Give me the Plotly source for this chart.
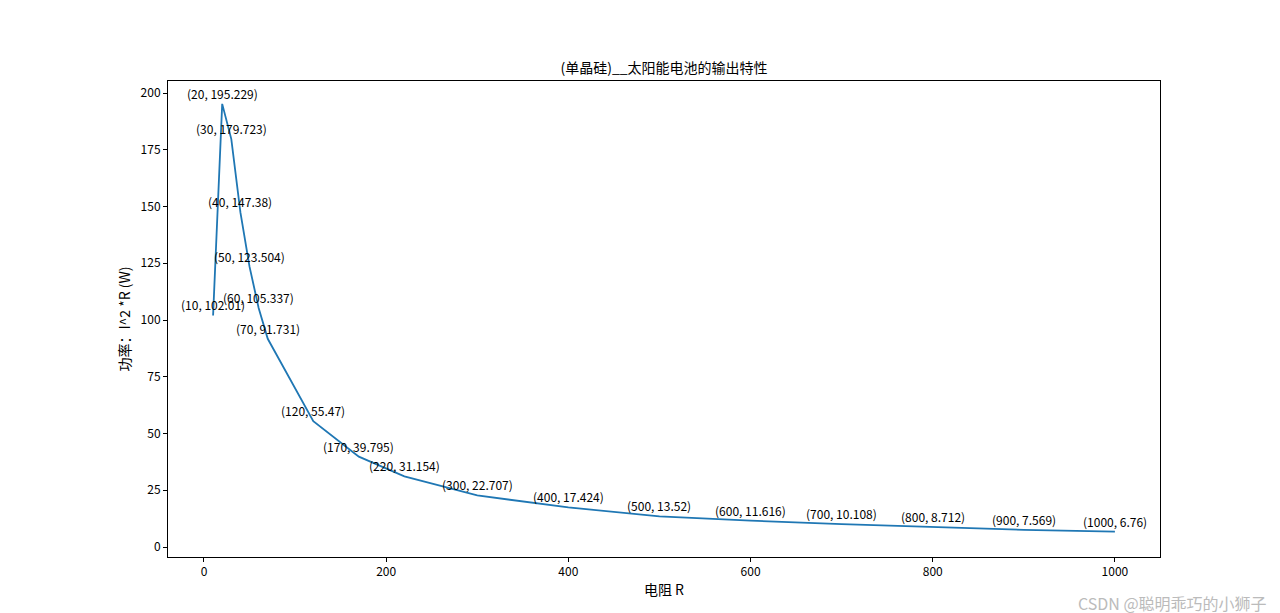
import plotly.graph_objects as go

resistance = [10, 20, 30, 40, 50, 60, 70, 120, 170, 220, 300, 400, 500, 600, 700, 800, 900, 1000]
power = [102.01, 195.229, 179.723, 147.38, 123.504, 105.337, 91.731, 55.47, 39.795, 31.154,
         22.707, 17.424, 13.52, 11.616, 10.108, 8.712, 7.569, 6.76]

font = "Noto Sans CJK SC, DejaVu Sans"
fig = go.Figure(go.Scatter(x=resistance, y=power, mode="lines",
                           line=dict(color="#1f77b4", width=1.8)))
anns = [dict(x=x, y=y, text=f"({x}, {y})", showarrow=False, xanchor="center",
             yanchor="bottom", font=dict(size=12, color="black", family=font))
        for x, y in zip(resistance, power)]
anns.append(dict(xref="paper", yref="paper", x=1.11, y=-0.097, text="CSDN @聪明乖巧的小狮子",
                 showarrow=False, xanchor="right", yanchor="middle",
                 font=dict(size=16, color="#bbbbbb", family=font)))
fig.update_layout(
    width=1280, height=613, plot_bgcolor="white", paper_bgcolor="white",
    margin=dict(l=160, r=128, t=73, b=64, autoexpand=False), showlegend=False,
    title=dict(text="(单晶硅)__太阳能电池的输出特性", x=0.5, xref="paper", y=1 - 60/613,
               yanchor="middle", font=dict(size=14, color="black", family=font)),
    font=dict(family=font, size=12, color="black"),
    annotations=anns,
)
axis = dict(showline=True, mirror=True, linecolor="black", linewidth=1, ticks="outside",
            ticklen=4, tickcolor="black", showgrid=False, zeroline=False, automargin=False)
fig.update_xaxes(**axis, range=[-39.5, 1049.5], tickvals=[0, 200, 400, 600, 800, 1000],
                 title=dict(text="电阻 R", standoff=6))
fig.update_yaxes(**axis, range=[-4.4, 205.3], tickvals=[0, 25, 50, 75, 100, 125, 150, 175, 200],
                 title=dict(text="功率：I^2 *R (W)", standoff=6))
fig.write_html("out.html")
